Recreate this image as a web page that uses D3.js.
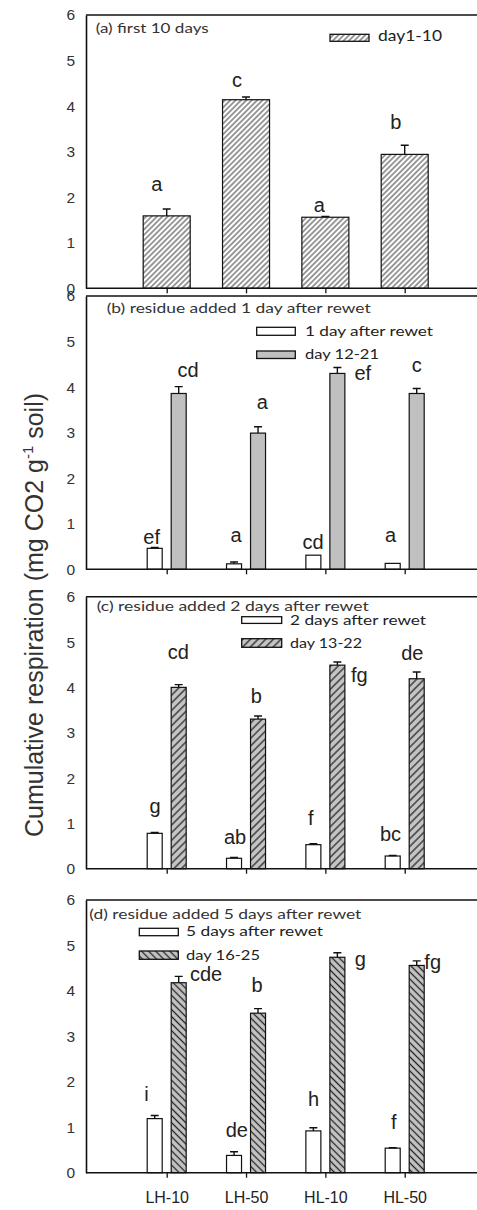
<!DOCTYPE html>
<html>
<head>
<meta charset="utf-8">
<script src="https://cdn.jsdelivr.net/npm/d3@7"></script>
<style>
  html, body { margin: 0; padding: 0; background: #fff; }
  svg { display: block; }
</style>
</head>
<body>
<svg id="chart" width="477" height="1210"></svg>
<script>
// ---- data ----
const categories = ["LH-10", "LH-50", "HL-10", "HL-50"];
const yTicks = [0, 1, 2, 3, 4, 5, 6];

// (a) first 10 days
const day1to10 = [1.59, 4.14, 1.56, 2.94];
const day1to10Err = [0.15, 0.06, 0.02, 0.20];
const day1to10Letters = ["a", "c", "a", "b"];

// (b) residue added 1 day after rewet
const rewet1 = [0.46, 0.12, 0.31, 0.13];
const rewet1Err = [0.02, 0.04, 0.0, 0.0];
const rewet1Letters = ["ef", "a", "cd", "a"];
const day12to21 = [3.86, 2.99, 4.30, 3.86];
const day12to21Err = [0.15, 0.14, 0.13, 0.11];
const day12to21Letters = ["cd", "a", "ef", "c"];

// (c) residue added 2 days after rewet
const rewet2 = [0.78, 0.23, 0.53, 0.28];
const rewet2Err = [0.02, 0.02, 0.02, 0.01];
const rewet2Letters = ["g", "ab", "f", "bc"];
const day13to22 = [4.00, 3.30, 4.49, 4.19];
const day13to22Err = [0.06, 0.07, 0.07, 0.15];
const day13to22Letters = ["cd", "b", "fg", "de"];

// (d) residue added 5 days after rewet
const rewet5 = [1.19, 0.38, 0.92, 0.54];
const rewet5Err = [0.07, 0.08, 0.07, 0.01];
const rewet5Letters = ["i", "de", "h", "f"];
const day16to25 = [4.18, 3.51, 4.74, 4.56];
const day16to25Err = [0.14, 0.10, 0.10, 0.10];
const day16to25Letters = ["cde", "b", "g", "fg"];

// ---- layout: letter offsets (px) from the top of each error bar ----
const offA = [[-10, -24], [-9, -16], [-6, -10.6], [-9, -22]];
const offB1 = [[-3, -9.4], [2, -26], [-0.3, -12], [-2.2, -27.6]];
const offB2 = [[9.3, -15.7], [4.3, -24], [25.4, 6.7], [0, -22.3]];
const offC1 = [[0.4, -25], [1.1, -19], [-2.6, -24.5], [-2.2, -21]];
const offC2 = [[-0.4, -32], [-1.7, -18.7], [22, 14], [-4.4, -18]];
const offD1 = [[-8.2, -20.4], [2.8, -21], [0.1, -27.7], [1.1, -24.4]];
const offD2 = [[27.3, -1.4], [-1, -22.6], [23, 7.6], [16, 1.8]];

const FONT_SANS = "'Liberation Sans', Arial, sans-serif";
const FONT_NOTE = "Lato, 'Open Sans', sans-serif";

const panels = [
  {
    top: 15, bottom: 288.3,
    title: { text: "(a) first 10 days", x: 95.7, y: 33, len: 113 },
    single: true,
    series: [
      { values: day1to10, err: day1to10Err, letters: day1to10Letters, off: offA, fill: "url(#hatchA)",
        legend: { text: "day1-10", sx: 330, sy: 34.3, sw: 39, sh: 7, tx: 378, ty: 41, len: 64, size: 16 } }
    ]
  },
  {
    top: 296, bottom: 569.3,
    title: { text: "(b) residue added 1 day after rewet", x: 106.7, y: 312.7, len: 264 },
    series: [
      { values: rewet1, err: rewet1Err, letters: rewet1Letters, off: offB1, fill: "#ffffff",
        legend: { text: "1 day after rewet", sx: 256.7, sy: 327.3, sw: 38.6, sh: 8, tx: 305, ty: 335.7, len: 128, size: 14 } },
      { values: day12to21, err: day12to21Err, letters: day12to21Letters, off: offB2, fill: "#c0c0c0",
        legend: { text: "day 12-21", sx: 256.7, sy: 351, sw: 38.6, sh: 7.5, tx: 305, ty: 359.3, len: 74, size: 14 } }
    ]
  },
  {
    top: 596.7, bottom: 868.7,
    title: { text: "(c) residue added 2 days after rewet", x: 96.7, y: 610.7, len: 272 },
    series: [
      { values: rewet2, err: rewet2Err, letters: rewet2Letters, off: offC1, fill: "#ffffff",
        legend: { text: "2 days after rewet", sx: 241.7, sy: 616.7, sw: 40, sh: 6.7, tx: 290, ty: 625, len: 136, size: 14 } },
      { values: day13to22, err: day13to22Err, letters: day13to22Letters, off: offC2, fill: "url(#hatchC)",
        legend: { text: "day 13-22", sx: 241.7, sy: 638.7, sw: 40, sh: 8.6, tx: 290, ty: 648.3, len: 72, size: 14 } }
    ]
  },
  {
    top: 900, bottom: 1172.7,
    title: { text: "(d) residue added 5 days after rewet", x: 89.3, y: 919, len: 272 },
    xLabels: true,
    series: [
      { values: rewet5, err: rewet5Err, letters: rewet5Letters, off: offD1, fill: "#ffffff",
        legend: { text: "5 days after rewet", sx: 139.3, sy: 928.3, sw: 39, sh: 7.4, tx: 186, ty: 936, len: 137, size: 14 } },
      { values: day16to25, err: day16to25Err, letters: day16to25Letters, off: offD2, fill: "url(#hatchD)",
        legend: { text: "day 16-25", sx: 139.3, sy: 951, sw: 39, sh: 8.3, tx: 186, ty: 960, len: 74, size: 14 } }
    ]
  }
];

const svg = d3.select("#chart");
const AXIS_X = 86, RIGHT = 477;

// hatch patterns
const defs = svg.append("defs");
function hatch(id, spacing, angle, bg, stroke, sw) {
  const p = defs.append("pattern")
    .attr("id", id)
    .attr("patternUnits", "userSpaceOnUse")
    .attr("width", spacing).attr("height", spacing)
    .attr("patternTransform", `rotate(${angle})`);
  p.append("rect").attr("width", spacing).attr("height", spacing).attr("fill", bg);
  p.append("line").attr("x1", spacing / 2).attr("x2", spacing / 2)
    .attr("y1", 0).attr("y2", spacing)
    .attr("stroke", stroke).attr("stroke-width", sw);
}
hatch("hatchA", 3.8, 45, "#ffffff", "#222", 0.9);
hatch("hatchC", 5.4, 45, "#c4c4c4", "#2a2a2a", 1.3);
hatch("hatchD", 5.0, -45, "#c4c4c4", "#222", 1.3);

const x = d3.scalePoint().domain(categories).range([166.7, 404.7]);
const inner = d3.scaleBand().domain([0, 1]).range([-19.5, 19.5]).paddingInner(0.375).paddingOuter(0);
const WIDE = 47;

panels.forEach(panel => {
  const y = d3.scaleLinear().domain([0, 6]).range([panel.bottom, panel.top]);
  const g = svg.append("g");

  // top frame line
  g.append("line")
    .attr("x1", AXIS_X).attr("x2", RIGHT)
    .attr("y1", y(6)).attr("y2", y(6))
    .attr("stroke", "#111").attr("stroke-width", 1.6);

  // bars, error bars, letters
  panel.series.forEach((s, si) => {
    const bw = panel.single ? WIDE : inner.bandwidth();
    const cx = (i) => panel.single ? x(categories[i]) : x(categories[i]) + inner(si) + bw / 2;
    const gs = g.append("g");

    gs.selectAll("rect.bar").data(s.values).join("rect")
      .attr("class", "bar")
      .attr("x", (d, i) => cx(i) - bw / 2)
      .attr("width", bw)
      .attr("y", d => y(d))
      .attr("height", d => y(0) - y(d))
      .attr("fill", s.fill)
      .attr("stroke", "#111").attr("stroke-width", 1.2);

    gs.selectAll("path.err").data(s.values).join("path")
      .attr("class", "err")
      .attr("d", (d, i) => {
        const e = s.err[i];
        if (e <= 0) return null;
        const c = cx(i);
        return `M${c},${y(d)}V${y(d + e)}M${c - 4},${y(d + e)}H${c + 4}`;
      })
      .attr("fill", "none").attr("stroke", "#111").attr("stroke-width", 1.4);

    gs.selectAll("text.letter").data(s.letters).join("text")
      .attr("class", "letter")
      .attr("x", (d, i) => cx(i) + s.off[i][0])
      .attr("y", (d, i) => y(s.values[i] + s.err[i]) + s.off[i][1] + 6)
      .attr("text-anchor", "middle")
      .attr("font-family", FONT_SANS)
      .attr("font-size", 20)
      .attr("fill", "#222")
      .text(d => d);

    // legend entry
    const L = s.legend;
    g.append("rect")
      .attr("x", L.sx).attr("y", L.sy).attr("width", L.sw).attr("height", L.sh)
      .attr("fill", s.fill).attr("stroke", "#111").attr("stroke-width", 1.3);
    g.append("text")
      .attr("x", L.tx).attr("y", L.ty)
      .attr("font-family", FONT_NOTE).attr("font-size", L.size)
      .attr("textLength", L.len).attr("lengthAdjust", "spacingAndGlyphs")
      .attr("fill", "#222")
      .text(L.text);
  });

  // panel title
  g.append("text")
    .attr("x", panel.title.x).attr("y", panel.title.y)
    .attr("font-family", FONT_NOTE).attr("font-size", 14)
    .attr("textLength", panel.title.len).attr("lengthAdjust", "spacingAndGlyphs")
    .attr("fill", "#333")
    .text(panel.title.text);

  // left axis
  const yAxis = g.append("g")
    .attr("transform", `translate(${AXIS_X},0)`)
    .call(d3.axisLeft(y).tickValues(yTicks).tickFormat(d3.format("d")).tickSize(0).tickSizeOuter(0).tickPadding(11));
  yAxis.select(".domain").attr("stroke", "#111").attr("stroke-width", 1.6);
  yAxis.selectAll("text")
    .attr("font-family", FONT_SANS).attr("font-size", 15.5).attr("fill", "#333");

  // bottom axis
  g.append("line")
    .attr("x1", AXIS_X).attr("x2", RIGHT)
    .attr("y1", y(0)).attr("y2", y(0))
    .attr("stroke", "#111").attr("stroke-width", 1.6);
  const xAxis = g.append("g")
    .attr("transform", `translate(0,${y(0)})`)
    .call(d3.axisBottom(x).tickSize(5).tickSizeOuter(0).tickPadding(14)
      .tickFormat(panel.xLabels ? (d => d) : () => ""));
  xAxis.select(".domain").remove();
  xAxis.selectAll(".tick line").attr("stroke", "#111").attr("stroke-width", 1.3);
  xAxis.selectAll("text")
    .attr("font-family", FONT_SANS).attr("font-size", 16).attr("fill", "#222");
});

// shared y-axis title
const yTitle = svg.append("text")
  .attr("transform", "translate(43,615) rotate(-90)")
  .attr("text-anchor", "middle")
  .attr("font-family", FONT_SANS)
  .attr("font-size", 25)
  .attr("fill", "#333");
yTitle.append("tspan").text("Cumulative respiration (mg CO2 g");
yTitle.append("tspan").attr("font-size", 15).attr("dy", -10).text("-1");
yTitle.append("tspan").attr("dy", 10).text(" soil)");
</script>
</body>
</html>
